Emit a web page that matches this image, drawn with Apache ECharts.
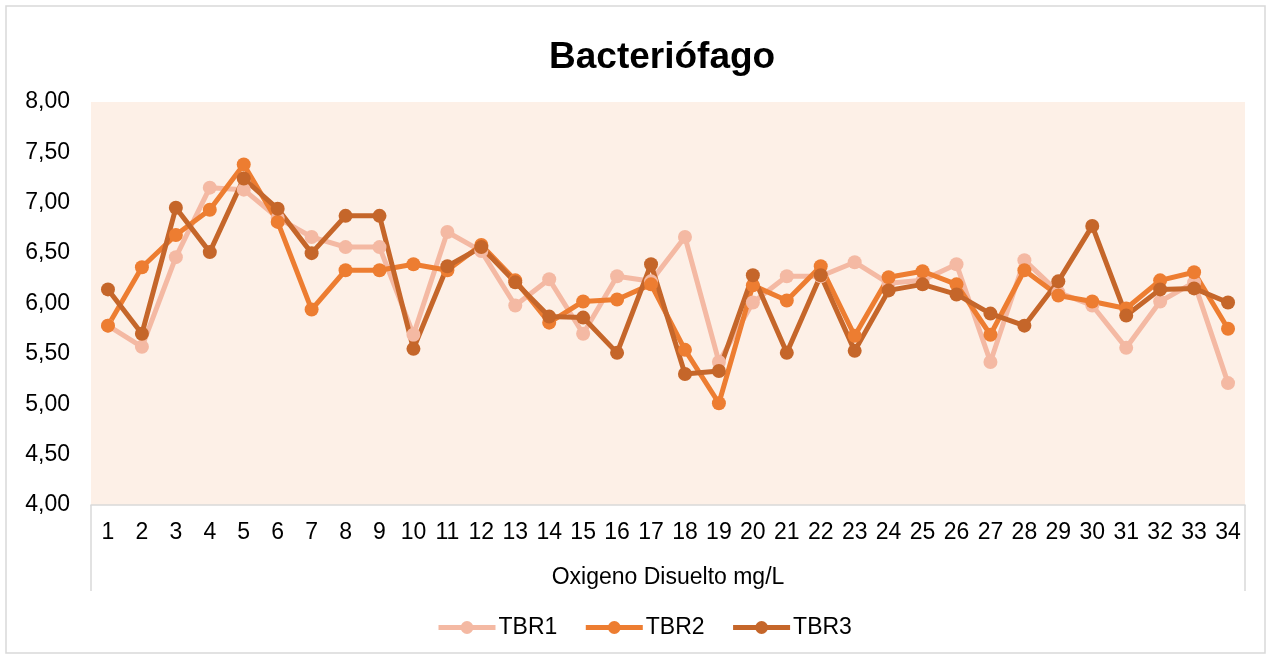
<!DOCTYPE html>
<html>
<head>
<meta charset="utf-8">
<script src="https://cdn.jsdelivr.net/npm/echarts@6/dist/echarts.min.js"></script>
<style>
  html, body { margin: 0; padding: 0; background: #fff; }
  #chart { width: 1271px; height: 659px; }
</style>
</head>
<body>
<div id="chart"></div>
<script>
const categories = ['1','2','3','4','5','6','7','8','9','10','11','12','13','14','15','16','17',
  '18','19','20','21','22','23','24','25','26','27','28','29','30','31','32','33','34'];

const tbr1 = [5.78, 5.57, 6.46, 7.15, 7.13, 6.85, 6.66, 6.56, 6.56, 5.69, 6.71, 6.52, 5.98, 6.24, 5.70, 6.27, 6.22,
  6.66, 5.42, 6.01, 6.27, 6.27, 6.41, 6.20, 6.23, 6.39, 5.42, 6.43, 6.11, 5.98, 5.56, 6.02, 6.21, 5.21];
const tbr2 = [5.78, 6.36, 6.68, 6.93, 7.38, 6.81, 5.94, 6.33, 6.33, 6.39, 6.33, 6.58, 6.23, 5.81, 6.02, 6.04, 6.19,
  5.54, 5.01, 6.18, 6.03, 6.37, 5.68, 6.26, 6.32, 6.19, 5.69, 6.33, 6.08, 6.02, 5.95, 6.23, 6.31, 5.75];
const tbr3 = [6.14, 5.70, 6.95, 6.51, 7.24, 6.94, 6.50, 6.87, 6.87, 5.55, 6.37, 6.56, 6.21, 5.87, 5.86, 5.51, 6.39,
  5.30, 5.33, 6.28, 5.51, 6.28, 5.53, 6.13, 6.19, 6.09, 5.90, 5.78, 6.22, 6.77, 5.88, 6.14, 6.15, 6.01];

const seriesNames = ['TBR1', 'TBR2', 'TBR3'];
const seriesColors = ['#F4B9A3', '#ED7D31', '#C5662A'];
const seriesData = [tbr1, tbr2, tbr3];

const chart = echarts.init(document.getElementById('chart'));
const fontFamily = '"Liberation Sans", Arial, sans-serif';

// plot box
const gridLeft = 91, gridRight = 26, gridTop = 102, gridBottom = 154;

const option = {
  backgroundColor: '#fff',
  animation: false,
  textStyle: { fontFamily: fontFamily },
  title: {
    text: 'Bacteriófago',
    left: 544,
    top: 34,
    textStyle: { fontSize: 37, fontWeight: 'bold', color: '#000', fontFamily: fontFamily }
  },
  legend: {
    left: 431,
    top: 611,
    itemWidth: 57,
    itemHeight: 16,
    itemGap: 26,
    lineStyle: { width: 5 },
    textStyle: { fontSize: 23, color: '#000', fontFamily: fontFamily, padding: [0, 0, 0, -2] },
    data: seriesNames
  },
  grid: {
    left: gridLeft, right: gridRight, top: gridTop, bottom: gridBottom,
    show: true,
    backgroundColor: '#FDF0E7',
    borderWidth: 0
  },
  xAxis: {
    type: 'category',
    data: categories,
    boundaryGap: true,
    axisLine: { lineStyle: { color: '#D9D9D9', width: 1.5 } },
    axisTick: { show: false },
    axisLabel: { fontSize: 23, color: '#000', margin: 16, interval: 0 },
    name: 'Oxigeno Disuelto mg/L',
    nameLocation: 'middle',
    nameGap: 61,
    nameTextStyle: { fontSize: 23, color: '#000' }
  },
  yAxis: {
    type: 'value',
    min: 4,
    max: 8,
    interval: 0.5,
    axisLine: { show: false },
    axisTick: { show: false },
    splitLine: { show: false },
    axisLabel: {
      fontSize: 23,
      color: '#000',
      margin: 21,
      formatter: v => v.toFixed(2).replace('.', ',')
    }
  },
  series: seriesData.map((d, i) => ({
    name: seriesNames[i],
    type: 'line',
    data: d,
    symbol: 'circle',
    symbolSize: 14,
    color: seriesColors[i],
    lineStyle: { width: 5, color: seriesColors[i] },
    itemStyle: { color: seriesColors[i] }
  })),
  graphic: [
    {
      type: 'rect',
      shape: { x: 6, y: 6, width: 1259, height: 647 },
      style: { fill: 'none', stroke: '#D9D9D9', lineWidth: 1.5 },
      silent: true, z: -1
    },
    {
      type: 'line',
      shape: { x1: gridLeft, y1: 659 - gridBottom, x2: gridLeft, y2: 591 },
      style: { stroke: '#D9D9D9', lineWidth: 1.5 }
    },
    {
      type: 'line',
      shape: { x1: 1271 - gridRight, y1: 659 - gridBottom, x2: 1271 - gridRight, y2: 591 },
      style: { stroke: '#D9D9D9', lineWidth: 1.5 }
    }
  ]
};

chart.setOption(option);
</script>
</body>
</html>
